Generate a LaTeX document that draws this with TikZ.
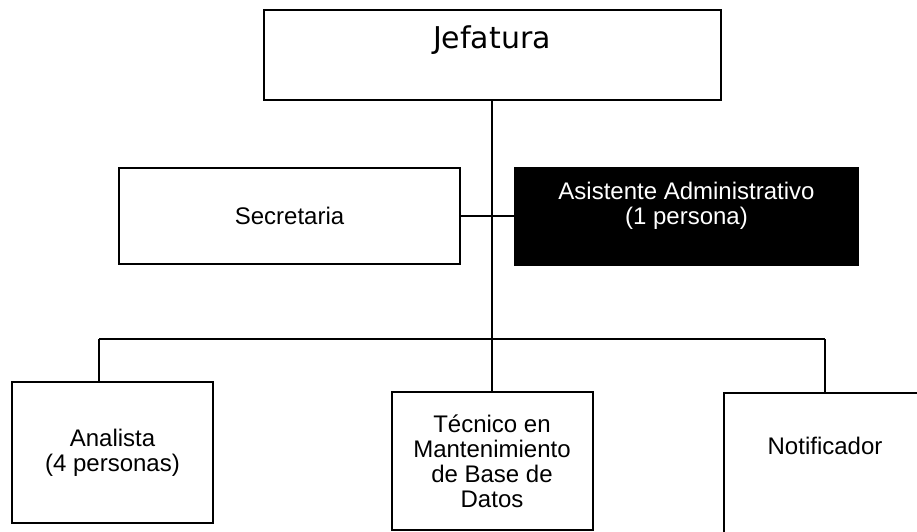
\documentclass[tikz,border=0pt]{standalone}
\usepackage{fontspec}
\setmainfont{Liberation Sans}
\newfontfamily\jefefont{DejaVu Sans}
\usepackage{tikz}
\usetikzlibrary{positioning}

\begin{document}
\begin{tikzpicture}[x=1pt,y=-1pt]
    \tikzset{
    puesto/.style={
        draw,
        line width=2pt,
        fill=white,
        align=center,
        inner sep=0pt,
        font=\fontsize{24}{25}\selectfont
    },
    linea/.style={
        line width=2pt
    }
}
        \useasboundingbox (0,0) rectangle (917,532);
        \clip (0,0) rectangle (917,532);

        \coordinate (Bus) at (492,339);
        \coordinate (BusIzq) at (99,339);
        \coordinate (BusDer) at (825,339);

        \draw[linea] (BusIzq) -- (BusDer);

        \node[puesto, minimum width=457pt, minimum height=90pt, text height=22pt, text depth=34pt, font=\jefefont\fontsize{30}{32}\selectfont] (Jefatura) at (492,55) {Jefatura};

        \node[puesto, minimum width=341pt, minimum height=96pt] (Secretaria) at (289.5,216) {Secretaria};

        \node[puesto, fill=black, text=white, minimum width=343pt, minimum height=97pt, text depth=25pt] (Asistente) at (686.5,216) {Asistente Administrativo\\(1 persona)};

        \node[puesto, minimum width=201pt, minimum height=141pt] (Analista) at (112.5,452.5) {Analista\\(4 personas)};

        \node[puesto, minimum width=201pt, minimum height=138pt] (Tecnico) at (492,461) {T\'ecnico en\\Mantenimiento\\de Base de\\Datos};

        \node[puesto, minimum width=202pt, minimum height=148pt, text depth=42pt] (Notificador) at (825,467) {Notificador};

        \draw[linea] (Jefatura) -- (Bus);
        \draw[linea] (Secretaria) -- (Asistente);
        \draw[linea] (BusIzq) -- (BusIzq |- Analista.north);
        \draw[linea] (Bus) -- (Tecnico);
        \draw[linea] (BusDer) -- (Notificador);
\end{tikzpicture}
\end{document}
